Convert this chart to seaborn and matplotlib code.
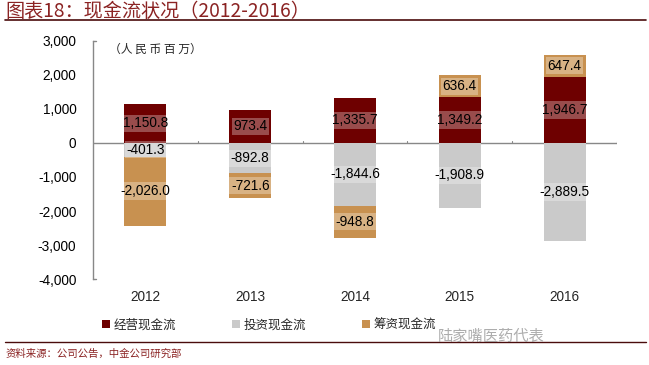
import numpy as np
import pandas as pd
import matplotlib
matplotlib.use('Agg')
import matplotlib.pyplot as plt
from matplotlib.patches import Patch
import seaborn as sns

years = ['2012', '2013', '2014', '2015', '2016']
operating = [1150.8, 973.4, 1335.7, 1349.2, 1946.7]
investing = [-401.3, -892.8, -1844.6, -1908.9, -2889.5]
financing = [-2026.0, -721.6, -948.8, 636.4, 647.4]
series_names = ['经营现金流', '投资现金流', '筹资现金流']
colors = ['#6E0000', '#CACACA', '#C89150']
yticks = [3000, 2000, 1000, 0, -1000, -2000, -3000, -4000]

sns.set_theme(style='white')
plt.rcParams['font.family'] = ['Liberation Sans', 'Noto Sans CJK SC', 'DejaVu Sans']
cjk = ['Noto Sans CJK SC', 'DejaVu Sans']

fig = plt.figure(figsize=(6.49, 3.65), dpi=100)
ax = fig.add_axes([0.1433, 0.2356, 0.8074, 0.6521])

# stack positives upward and negatives downward
pos_base = np.zeros(len(years))
neg_base = np.zeros(len(years))
segments = []
for name, vals, col in zip(series_names, [operating, investing, financing], colors):
    vals = np.array(vals)
    bottoms = np.where(vals >= 0, pos_base, neg_base)
    df = pd.DataFrame({'year': years, 'value': vals})
    sns.barplot(data=df, x='year', y='value', order=years, color=col,
                saturation=1, width=0.4, bottom=bottoms, ax=ax, errorbar=None,
                linewidth=0, edgecolor='none')
    for i, v in enumerate(vals):
        segments.append((i, bottoms[i] + v / 2, v))
    pos_base = np.where(vals >= 0, pos_base + vals, pos_base)
    neg_base = np.where(vals < 0, neg_base + vals, neg_base)

for i, yc, v in segments:
    ax.text(i, yc, f'{v:,.1f}', ha='center', va='center', fontsize=9.8, color='black',
            bbox=dict(boxstyle='square,pad=0.12', facecolor='white', edgecolor='none', alpha=0.3))

ax.set_xlim(-0.5, 4.5)
ax.set_ylim(-4000, 3000)
ax.set_yticks(yticks)
ax.set_yticklabels([f'{t:,}' for t in yticks], fontsize=9.8)
ax.set_xlabel('')
ax.set_ylabel('')
ax.axhline(0, color='#888888', lw=1, zorder=0)
for b in np.arange(0.5, 5.0, 1.0):
    ax.plot([b, b], [0, 70], color='#888888', lw=0.8)
for s in ['top', 'right', 'bottom']:
    ax.spines[s].set_visible(False)
ax.spines['left'].set_color('#888888')
ax.spines['left'].set_linewidth(1)
ax.tick_params(axis='y', direction='in', length=0, pad=12, colors='black')
ax.tick_params(axis='x', length=0, labelsize=9.8, pad=8)
ax.plot([-0.5, -0.47], [3000, 3000], color='#888888', lw=1, clip_on=False)
ax.plot([-0.5, -0.47], [-4000, -4000], color='#888888', lw=1, clip_on=False)

ax.text(0.03, 0.965, '（人 民 币 百 万）', transform=ax.transAxes, fontsize=8.5,
        family=cjk, va='center', ha='left')

# title and rules
fig.text(0.008, 0.968, '图表18：现金流状况（2012-2016）', fontsize=13.8, color='#8B2323',
         family=cjk, va='center', ha='left')
fig.add_artist(plt.Line2D([0.008, 0.995], [0.945, 0.945], color='#4A0C0C', lw=1.2))
fig.add_artist(plt.Line2D([0.008, 0.995], [0.063, 0.063], color='#4A0C0C', lw=1.0))
fig.text(0.008, 0.03, '资料来源：公司公告，中金公司研究部', fontsize=7.5, color='#8B2323',
         family=cjk, va='center', ha='left')
fig.text(0.675, 0.08, '陆家嘴医药代表', fontsize=11, color='#999999', alpha=0.8,
         family=cjk, va='center', ha='left')

handles = [Patch(facecolor=c, edgecolor='none') for c in colors]
leg = fig.legend(handles, series_names, loc='center', bbox_to_anchor=(0.415, 0.11), ncol=3,
                 frameon=False, prop={'family': cjk, 'size': 9}, handlelength=0.6,
                 handleheight=0.6, handletextpad=0.3, columnspacing=4.5)

fig.savefig('out.png', dpi=100)
